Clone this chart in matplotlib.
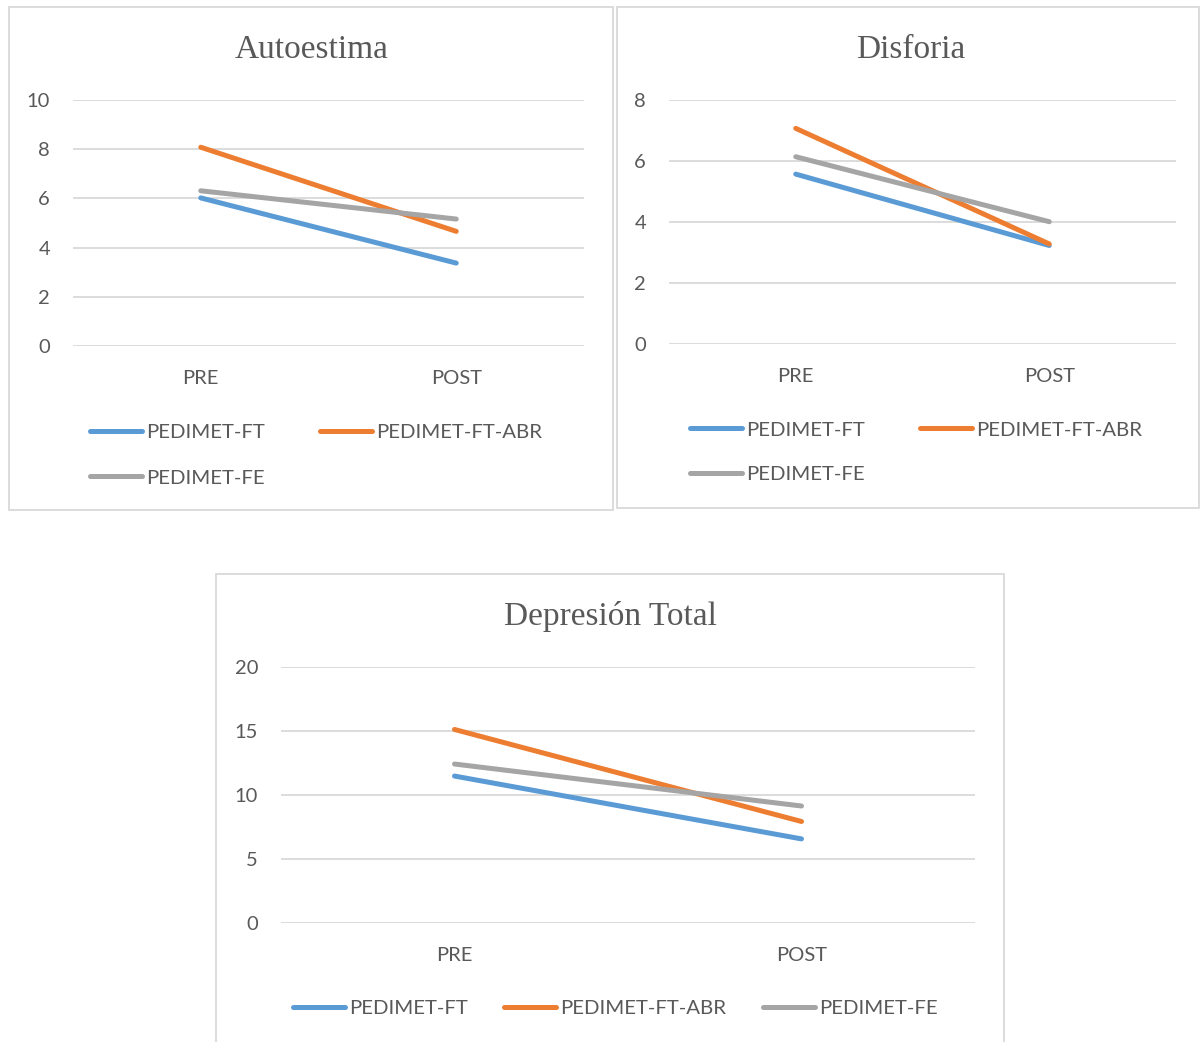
import matplotlib
matplotlib.use("Agg")
import matplotlib.pyplot as plt
from matplotlib.lines import Line2D
from matplotlib.patches import Rectangle

# Data
momentos = ["PRE", "POST"]
series_nombres = ["PEDIMET-FT", "PEDIMET-FT-ABR", "PEDIMET-FE"]

autoestima_ft = [6.02, 3.37]
autoestima_ft_abr = [8.08, 4.66]
autoestima_fe = [6.31, 5.16]

disforia_ft = [5.57, 3.23]
disforia_ft_abr = [7.07, 3.28]
disforia_fe = [6.14, 4.01]

depresion_ft = [11.48, 6.57]
depresion_ft_abr = [15.12, 7.93]
depresion_fe = [12.42, 9.14]

autoestima_ticks = [0, 2, 4, 6, 8, 10]
disforia_ticks = [0, 2, 4, 6, 8]
depresion_ticks = [0, 5, 10, 15, 20]

colores = ["#5B9BD5", "#ED7D31", "#A5A5A5"]
TXT = "#595959"
GRID = "#D9D9D9"
SANS = ["Lato", "DejaVu Sans"]
SERIF = ["Liberation Serif", "DejaVu Serif"]

W, H = 1200, 1042
fig = plt.figure(figsize=(W / 100, H / 100), dpi=100)
fig.patch.set_facecolor("white")


def fx(px):
    return px / W


def fy(py):
    return 1 - py / H


def marco(x0, y0, x1, y1):
    fig.add_artist(Rectangle((fx(x0), fy(y1)), fx(x1 - x0), (y1 - y0) / H,
                             transform=fig.transFigure, fill=False,
                             edgecolor=GRID, lw=1.3))


def panel(rect, titulo, title_xy, datos, ticks, leyenda):
    x0, y0, x1, y1 = rect
    ax = fig.add_axes([fx(x0), fy(y1), fx(x1 - x0), (y1 - y0) / H])
    xs = list(range(len(momentos)))
    for vals, c, nombre in zip(datos, colores, series_nombres):
        ax.plot(xs, vals, color=c, lw=3.6, solid_capstyle="round", label=nombre)
    ax.set_xlim(-0.5, len(momentos) - 0.5)
    ax.set_ylim(ticks[0], ticks[-1])
    ax.set_yticks(ticks)
    ax.set_xticks(xs)
    ax.set_xticklabels(momentos)
    ax.grid(axis="y", color=GRID, lw=1.3)
    ax.set_axisbelow(True)
    for s in ax.spines.values():
        s.set_visible(False)
    ax.tick_params(axis="both", length=0, labelcolor=TXT, labelsize=14.5)
    ax.tick_params(axis="y", pad=16.5)
    ax.tick_params(axis="x", pad=17.5)
    for lab in ax.get_xticklabels() + ax.get_yticklabels():
        lab.set_family(SANS)
    ax.patch.set_alpha(0)
    fig.text(fx(title_xy[0]), fy(title_xy[1]), titulo, ha="center", va="center",
             fontsize=24, color=TXT, family=SERIF)
    # legend entries: (line x start, line x end, y)
    for (lx0, lx1, ly), c, nombre in zip(leyenda, colores, series_nombres):
        fig.add_artist(Line2D([fx(lx0), fx(lx1)], [fy(ly), fy(ly)],
                              transform=fig.transFigure, color=c, lw=3.6,
                              solid_capstyle="round"))
        fig.text(fx(lx1 + 4), fy(ly + 2), nombre, ha="left", va="center",
                 fontsize=14.7, color=TXT, family=SANS)
    return ax


marco(9, 7, 613, 510)
marco(617, 7, 1199, 508)
marco(216, 574, 1004, 1060)

panel((73, 100, 584, 346), "Autoestima", (312, 50),
      [autoestima_ft, autoestima_ft_abr, autoestima_fe], autoestima_ticks,
      [(90, 142, 431), (320, 372, 431), (90, 142, 476)])
panel((669, 100, 1176, 344), "Disforia", (911, 50),
      [disforia_ft, disforia_ft_abr, disforia_fe], disforia_ticks,
      [(690, 742, 428), (920, 972, 428), (690, 742, 473)])
panel((281, 667, 975, 923), "Depresión Total", (610, 617),
      [depresion_ft, depresion_ft_abr, depresion_fe], depresion_ticks,
      [(293, 345, 1007), (504, 556, 1007), (763, 815, 1007)])

fig.savefig("out.png", dpi=100, facecolor="white")
